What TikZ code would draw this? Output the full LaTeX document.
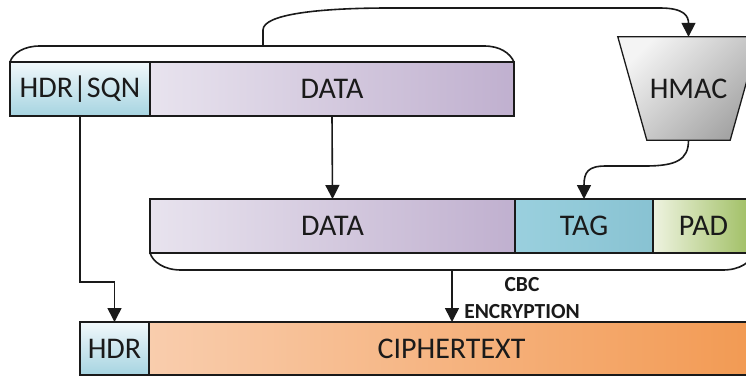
\documentclass[tikz,border=0pt]{standalone}
\usepackage{fontspec}
\setmainfont{Carlito}
\usetikzlibrary{arrows.meta}

\definecolor{hdrtop}{HTML}{F1F8FB}
\definecolor{hdrbot}{HTML}{A6D4E1}
\definecolor{datal}{HTML}{E8E3EE}
\definecolor{datar}{HTML}{C0B0CF}
\definecolor{tagl}{HTML}{9AD0DE}
\definecolor{tagr}{HTML}{88C2D2}
\definecolor{padl}{HTML}{EEF3E0}
\definecolor{padr}{HTML}{9DBD5F}
\definecolor{ctl}{HTML}{F9CDAD}
\definecolor{ctm}{HTML}{F6BF95}
\definecolor{ctr}{HTML}{F29A53}
\definecolor{maclight}{HTML}{F4F4F4}
\definecolor{macdark}{HTML}{A4A4A4}
\definecolor{ink}{HTML}{1A1A1A}

\begin{document}
\begin{tikzpicture}[x=1pt,y=-1pt,
  cell/.style={draw=ink, line width=1.3pt, inner sep=0pt, outer sep=0pt,
    minimum height=54pt, anchor=north west,
    font=\fontsize{30}{34}\selectfont, text=ink},
  link/.style={draw=ink, line width=1.6pt, -{Triangle[length=14pt,width=14pt]}},
  brace/.style={draw=ink, line width=1.6pt},
]
\useasboundingbox (0,0) rectangle (746,377);
\clip (0,0) rectangle (746,377);

% plaintext record: header/sequence number and data
\node[cell, minimum width=140pt, top color=hdrtop, bottom color=hdrbot] (hs) at (10,62) {HDR|SQN};
\node[cell, minimum width=364pt, left color=datal, right color=datar] (d1) at (hs.north east) {DATA};

% MAC input brace over the whole record
\draw[brace] (hs.north west) .. controls (13,53) and (24,46) .. (40,46)
  -- (484,46) .. controls (500,46) and (510,53) .. (d1.north east);
\coordinate (tb) at (263,46);

% HMAC block
\node[minimum width=83pt, minimum height=103pt, inner sep=0pt] (hmac) at (688.5,88.5) {};
\path[draw=ink, line width=1.3pt, top color=maclight, bottom color=macdark, shading angle=45]
  ([xshift=-29pt]hmac.north west) -- ([xshift=29pt]hmac.north east)
  -- (hmac.south east) -- (hmac.south west) -- cycle;
\node[font=\fontsize{30}{34}\selectfont, text=ink] at (hmac.center) {HMAC};

% record with tag and padding
\node[cell, minimum width=365pt, left color=datal, right color=datar] (d2) at (150,199) {DATA};
\node[cell, minimum width=138pt, left color=tagl, right color=tagr] (tag) at (d2.north east) {TAG};
\node[cell, minimum width=101pt, left color=padl, right color=padr] (pad) at (tag.north east) {PAD};

% encryption input brace
\draw[brace] (d2.south west) .. controls (153,262) and (164,270) .. (181,270)
  -- (723,270) .. controls (740,270) and (751,262) .. (pad.south east);
\coordinate (bb) at (452,270);

% output record
\node[cell, minimum width=69pt, minimum height=53pt, top color=hdrtop, bottom color=hdrbot] (hdr) at (80,322) {HDR};
\node[cell, minimum width=605pt, minimum height=53pt, left color=ctl, middle color=ctm, right color=ctr] (ct) at (hdr.north east) {CIPHERTEXT};

% connectors
\draw[link] (tb) -- (263,30) .. controls (263,14) and (320,8) .. (390,8)
  -- (660,8) .. controls (684,8) and (688.5,16) .. (hmac.north);
\draw[link] (hmac.south) .. controls (688.5,160) and (676,166) .. (645,166)
  -- (606,166) .. controls (588,166) and (584,172) .. (tag.north);
\draw[link] (d1.south) -- (d2.north);
\draw[link] (hs.south) -- ++(0,166) -| (hdr.north);
\draw[link] (bb) -- (bb |- ct.north);

\node[font=\bfseries\fontsize{21.5}{27}\selectfont, align=center, text=ink] (cbc) at (522,298) {CBC\\ENCRYPTION};
\end{tikzpicture}
\end{document}
